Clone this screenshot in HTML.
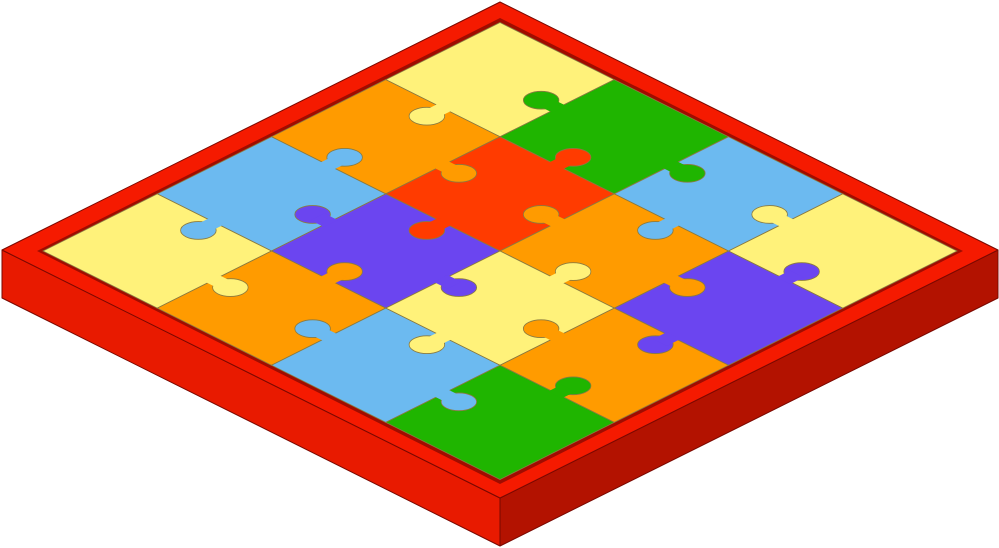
<!DOCTYPE html>
<html><head><meta charset="utf-8"><style>html,body{margin:0;background:#fff;width:999px;height:548px;overflow:hidden}</style></head>
<body>
<svg width="999" height="548" viewBox="0 0 999 548">
<g stroke="#7a0800" stroke-width="1" stroke-linejoin="round">
<polygon points="2,250 500,498 500,546 2,298" fill="#e81a00"/>
<polygon points="500,498 998,250 998,298 500,546" fill="#b31200"/>
<polygon points="500,2 998,250 500,498 2,250" fill="#f51a00"/>
<polygon points="500,18 963,251 500,484 37,251" fill="#a00c00" stroke="none"/>
</g>
<g id="grid" transform="matrix(1.1425,0.57125,-1.1425,0.57125,500,22.5)"></g>
</svg>
<script>
const colors=[
 ['#fff27a','#1fb500','#6cbaf0','#fff27a'],
 ['#ff9b00','#ff3b00','#ff9b00','#6b45f0'],
 ['#6cbaf0','#6b45f0','#fff27a','#ff9b00'],
 ['#fff27a','#ff9b00','#6cbaf0','#1fb500']];
const NS='http://www.w3.org/2000/svg';
const g=document.getElementById('grid');
function mk(t,a){const e=document.createElementNS(NS,t);for(const k in a)e.setAttribute(k,a[k]);g.appendChild(e);return e;}
for(let j=0;j<4;j++)for(let i=0;i<4;i++){
 const r=mk('rect',{x:i*100,y:j*100,width:100,height:100,fill:colors[j][i],stroke:'#8a7a40','stroke-width':0.8,'vector-effect':'non-scaling-stroke'});
 
 
}
// tabs on internal edges
for(let j=0;j<4;j++)for(let i=0;i<4;i++){
 if(i<3){const dir=((i+j)%2)?1:-1;const src=dir>0?colors[j][i]:colors[j][i+1];
  const cx=(i+1)*100+dir*14,cy=j*100+50;
  const c=mk('circle',{cx:cx,cy:cy,r:11,fill:src,stroke:'#8a7a40','stroke-width':0.8,'vector-effect':'non-scaling-stroke'});
  
  
  const n=mk('rect',{x:dir>0?(i+1)*100-2:(i+1)*100-10,y:cy-6,width:12,height:12,fill:src});
  
  }
 if(j<3){const dir=((i+j)%2)?-1:1;const src=dir>0?colors[j][i]:colors[j+1][i];
  const cx=i*100+50,cy=(j+1)*100+dir*14;
  const c=mk('circle',{cx:cx,cy:cy,r:11,fill:src,stroke:'#8a7a40','stroke-width':0.8,'vector-effect':'non-scaling-stroke'});
  
  
  const n=mk('rect',{x:cx-6,y:dir>0?(j+1)*100-2:(j+1)*100-10,width:12,height:12,fill:src});
  
  }
}
</script>
</body></html>
